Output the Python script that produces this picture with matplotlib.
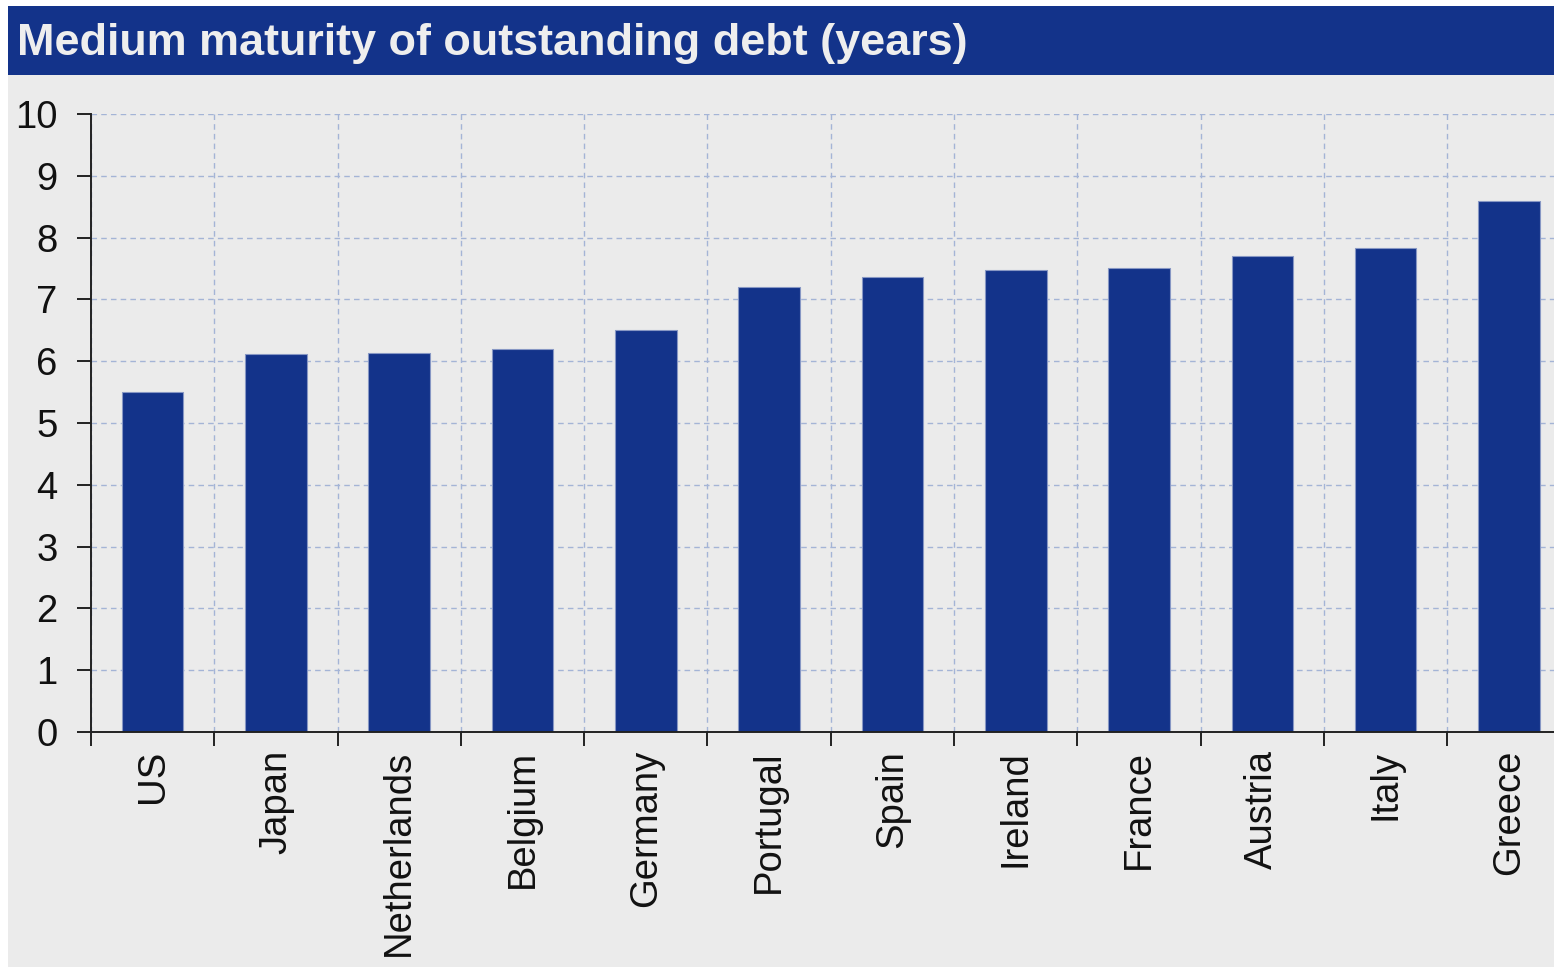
import matplotlib
matplotlib.use("Agg")
import matplotlib.pyplot as plt
from matplotlib.patches import Rectangle

# Average maturity of outstanding government debt, in years
countries = ["US", "Japan", "Netherlands", "Belgium", "Germany", "Portugal",
             "Spain", "Ireland", "France", "Austria", "Italy", "Greece"]
maturity_years = [5.50, 6.11, 6.14, 6.20, 6.51, 7.20,
                  7.36, 7.48, 7.51, 7.70, 7.83, 8.59]
y_ticks = list(range(0, 11))

W, H, DPI = 1554, 967, 100
NAVY = "#13338a"
PANEL = "#ebebeb"
GRID = "#a4b4d6"

plt.rcParams["font.family"] = ["Liberation Sans", "DejaVu Sans"]

fig = plt.figure(figsize=(W / DPI, H / DPI), dpi=DPI, facecolor="white")

# grey panel and navy title banner
fig.add_artist(Rectangle((8 / W, 0), 1 - 8 / W, 1 - 75 / H,
                         transform=fig.transFigure, facecolor=PANEL,
                         edgecolor="none", zorder=0))
fig.add_artist(Rectangle((8 / W, 1 - 75 / H), 1 - 8 / W, 69 / H,
                         transform=fig.transFigure, facecolor=NAVY,
                         edgecolor="none", zorder=0))
fig.text(17 / W, 1 - 43 / H, "Medium maturity of outstanding debt (years)",
         color="#eeeeee", fontsize=32.4, fontweight="bold",
         ha="left", va="center")

# plot area; the last category runs past the right edge of the figure
left, right = 91 / W, 1570.6 / W
bottom, top = 1 - 732 / H, 1 - 114 / H
ax = fig.add_axes([left, bottom, right - left, top - bottom])
ax.set_facecolor("none")

x = list(range(len(countries)))
ax.bar(x, maturity_years, width=0.5, color=NAVY, edgecolor="#8797c4",
       linewidth=0.8, zorder=3)

ax.set_xlim(-0.5, len(countries) - 0.5)
ax.set_ylim(0, 10)

# category labels centred under bars, ticks on the category boundaries
ax.set_xticks(x)
ax.set_xticklabels(countries, rotation=90, fontsize=27.5, color="#111111")
ax.set_xticks([i - 0.5 for i in x], minor=True)
ax.tick_params(axis="x", which="major", length=0, pad=13)
ax.tick_params(axis="x", which="minor", length=10, width=1.4,
               color="#222222", direction="out")

ax.set_yticks(y_ticks)
ax.set_yticklabels([str(v) for v in y_ticks], fontsize=27.5, color="#111111")
ax.tick_params(axis="y", length=10, width=1.4, color="#222222", pad=14)

ax.grid(False)
ax.grid(axis="y", which="major", color=GRID, linestyle=(0, (4, 3)),
        linewidth=1.0, zorder=1)
ax.grid(axis="x", which="minor", color=GRID, linestyle=(0, (4, 3)),
        linewidth=1.0, zorder=1)

for side in ("top", "right"):
    ax.spines[side].set_visible(False)
for side in ("left", "bottom"):
    ax.spines[side].set_color("#222222")
    ax.spines[side].set_linewidth(1.4)
    ax.spines[side].set_zorder(4)

fig.savefig("out.png", dpi=DPI, facecolor="white")
